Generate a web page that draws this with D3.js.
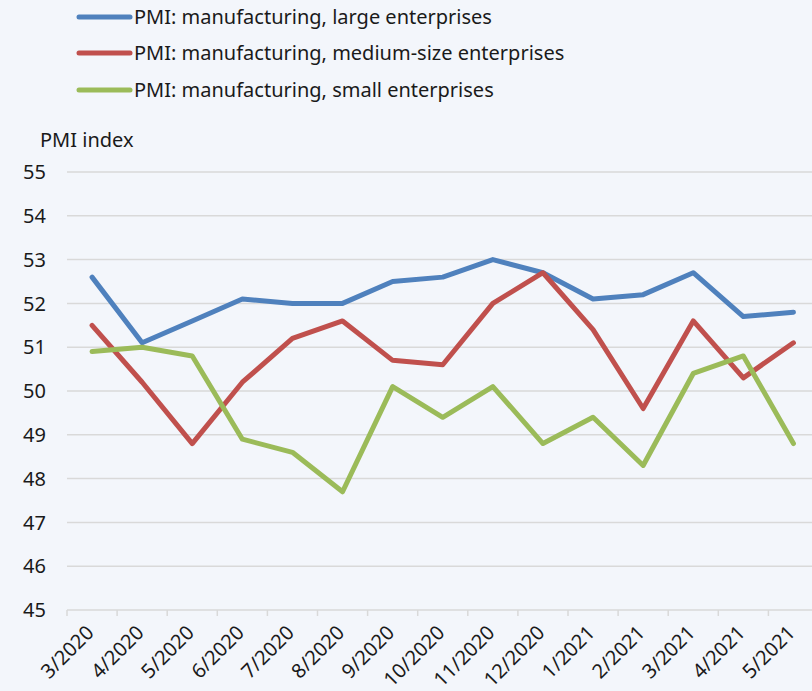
<!DOCTYPE html>
<html>
<head>
<meta charset="utf-8">
<script src="https://cdn.jsdelivr.net/npm/d3@7"></script>
<style>
  html, body { margin: 0; padding: 0; background: #f3f6fb; }
  svg { display: block; font-family: "Noto Sans", "Open Sans", sans-serif; }
</style>
</head>
<body>
<svg id="chart" width="812" height="691"></svg>
<script>
// Monthly PMI readings by enterprise size
const months = ["3/2020","4/2020","5/2020","6/2020","7/2020","8/2020","9/2020","10/2020",
                "11/2020","12/2020","1/2021","2/2021","3/2021","4/2021","5/2021"];
const largeValues  = [52.6, 51.1, 51.6, 52.1, 52.0, 52.0, 52.5, 52.6, 53.0, 52.7, 52.1, 52.2, 52.7, 51.7, 51.8];
const mediumValues = [51.5, 50.2, 48.8, 50.2, 51.2, 51.6, 50.7, 50.6, 52.0, 52.7, 51.4, 49.6, 51.6, 50.3, 51.1];
const smallValues  = [50.9, 51.0, 50.8, 48.9, 48.6, 47.7, 50.1, 49.4, 50.1, 48.8, 49.4, 48.3, 50.4, 50.8, 48.8];
const seriesNames  = ["PMI: manufacturing, large enterprises",
                      "PMI: manufacturing, medium-size enterprises",
                      "PMI: manufacturing, small enterprises"];
const seriesColors = ["#4f81bd", "#c0504d", "#9bbb59"];
const yTicks = [45, 46, 47, 48, 49, 50, 51, 52, 53, 54, 55];

const series = [largeValues, mediumValues, smallValues].map((v, i) => ({
  name: seriesNames[i], color: seriesColors[i], values: v
}));

const svg = d3.select("#chart");
const plotLeft = 67, bandW = 50.1, plotTop = 172, plotBottom = 610;
const textColor = "#1a1a1a", gridColor = "#d9d9d9";

const x = d3.scaleBand().domain(months).range([plotLeft, plotLeft + bandW * months.length]);
const y = d3.scaleLinear().domain([45, 55]).range([plotBottom, plotTop]);

// horizontal gridlines
svg.append("g").selectAll("line").data(yTicks.filter(d => d !== 45)).join("line")
  .attr("x1", plotLeft).attr("x2", 812)
  .attr("y1", d => y(d)).attr("y2", d => y(d))
  .attr("stroke", gridColor).attr("stroke-width", 1.5);

// y axis labels
svg.append("g").selectAll("text").data(yTicks).join("text")
  .attr("x", 46).attr("y", d => y(d)).attr("dy", "0.36em")
  .attr("text-anchor", "end").attr("font-size", 20).attr("fill", textColor)
  .text(d => d);

svg.append("text").attr("x", 40).attr("y", 147)
  .attr("font-size", 20).attr("fill", textColor).text("PMI index");

// x axis baseline with tick marks between categories
const xAxis = svg.append("g").attr("transform", `translate(0,${plotBottom})`);
xAxis.append("line").attr("x1", plotLeft).attr("x2", 812)
  .attr("stroke", gridColor).attr("stroke-width", 1.5);
xAxis.selectAll("line.tick").data(months).join("line").attr("class", "tick")
  .attr("x1", d => x(d)).attr("x2", d => x(d)).attr("y1", 0).attr("y2", 6)
  .attr("stroke", gridColor).attr("stroke-width", 1.5);
xAxis.selectAll("text").data(months).join("text")
  .attr("transform", d => `translate(${x(d) + x.bandwidth() / 2 + 3},${24}) rotate(-45)`)
  .attr("text-anchor", "end").attr("font-size", 20).attr("fill", textColor)
  .text(d => d);

// series lines
const line = d3.line()
  .x((d, i) => x(months[i]) + x.bandwidth() / 2)
  .y(d => y(d));
svg.append("g").selectAll("path").data(series).join("path")
  .attr("d", d => line(d.values))
  .attr("fill", "none").attr("stroke", d => d.color)
  .attr("stroke-width", 5).attr("stroke-linejoin", "round").attr("stroke-linecap", "round");

// legend
const legend = svg.append("g").selectAll("g").data(series).join("g")
  .attr("transform", (d, i) => `translate(0,${[17, 53, 90][i]})`);
legend.append("line").attr("x1", 79).attr("x2", 130)
  .attr("stroke", d => d.color).attr("stroke-width", 5).attr("stroke-linecap", "round");
legend.append("text").attr("x", 134).attr("dy", "0.36em")
  .attr("font-size", 20).attr("fill", textColor).text(d => d.name);
</script>
</body>
</html>
